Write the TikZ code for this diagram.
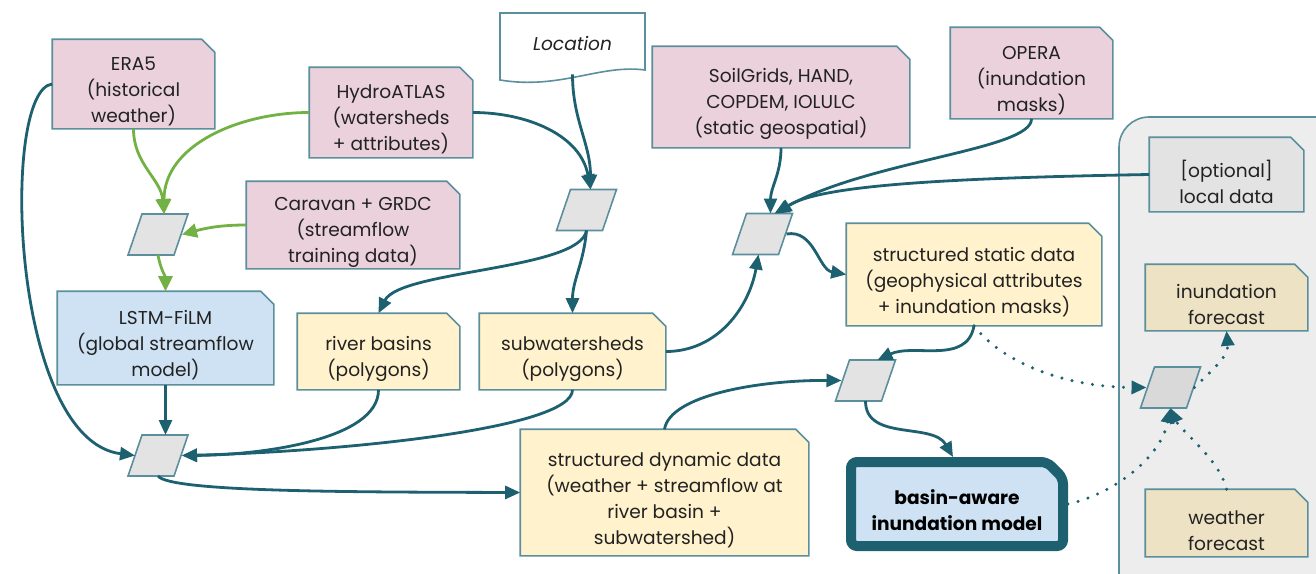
\documentclass[tikz,border=0pt]{standalone}
\usepackage{fontspec}
\setmainfont{Poppins}
\usetikzlibrary{arrows.meta,calc}
\definecolor{pinkf}{HTML}{EAD1DC}
\definecolor{bluef}{HTML}{CFE2F3}
\definecolor{yelf}{HTML}{FFF2CC}
\definecolor{greyf}{HTML}{E3E3E3}
\definecolor{greyg}{HTML}{D9D9D9}
\definecolor{beigef}{HTML}{EEE2C4}
\definecolor{groupf}{HTML}{EDEDED}
\definecolor{bord}{HTML}{5B8F9D}
\definecolor{edgec}{HTML}{1D6070}
\definecolor{grn}{HTML}{72B143}
\definecolor{txt}{HTML}{222222}
\pgfdeclarelayer{bg}
\pgfsetlayers{bg,main}
\newcommand\parash[2]{\filldraw[draw=bord, fill=#2, line width=0.8pt] (#1.south west) -- ([xshift=7pt]#1.north west) -- (#1.north east) -- ([xshift=-7pt]#1.south east) -- cycle;}
\newcommand\dogear[2]{\begin{pgfonlayer}{bg}\filldraw[draw=bord, fill=#2, line width=0.8pt] (#1.south west) -- (#1.north west) -- ([xshift=-6.5pt]#1.north east) -- ([yshift=-6.5pt]#1.north east) -- (#1.south east) -- cycle;\end{pgfonlayer}}
% name, position, width, height, fill, text
\newcommand\mybox[6]{\node[dog, minimum width=#3, minimum height=#4] (#1) at #2 {};
  \node[lbl] at ([yshift=-3.6pt]#1.center) {#6};
  \dogear{#1}{#5}}
\begin{document}
\begin{tikzpicture}[x=0.5pt,y=-0.5pt,
 lbl/.style={text=txt, align=center, font=\fontsize{9.3}{13}\selectfont, inner sep=0pt},
 dog/.style={rectangle, inner sep=0pt, outer sep=0.4pt},
 para/.style={rectangle, minimum width=30pt, minimum height=20.5pt, inner sep=0pt, outer sep=0pt},
 tarr/.style={draw=edgec, line width=1.4pt, -{Triangle[length=7.5pt,width=6.5pt]}},
 garr/.style={draw=grn, line width=1.4pt, -{Triangle[length=7.5pt,width=7pt]}},
 darr/.style={draw=edgec, line width=1.7pt, line cap=round, dash pattern=on 0pt off 5.2pt,
   -{Triangle[length=7.5pt,width=6.5pt]}},
]
\clip (0,0) rectangle (1316,573);
\useasboundingbox (0,0) rectangle (1316,573);

% group box
\begin{pgfonlayer}{bg}
\draw[draw=bord, fill=groupf, line width=0.8pt, rounded corners=15pt] (1119,117) rectangle (1380,640);
\end{pgfonlayer}

% Location document shape
\filldraw[draw=bord, fill=white, line width=0.8pt] (500,80) -- (500,13) -- (645,13) -- (645,70)
  .. controls (600,64) and (560,90) .. (500,80) -- cycle;
\node[lbl, font=\itshape\fontsize{9.3}{13}\selectfont, minimum width=72.5pt, minimum height=30pt] (loc) at (572.5,44) {Location};

% boxes
\mybox{era5}{(133.5,84)}{80.5pt}{44pt}{pinkf}{ERA5\\(historical\\weather)}
\mybox{hydro}{(391,112.5)}{81pt}{44.5pt}{pinkf}{HydroATLAS\\(watersheds\\+ attributes)}
\mybox{soil}{(781,97)}{128pt}{50pt}{pinkf}{SoilGrids, HAND,\\COPDEM, IOLULC\\(static geospatial)}
\mybox{opera}{(1031.5,73)}{80.5pt}{45pt}{pinkf}{OPERA\\(inundation\\masks)}
\mybox{caravan}{(353,225)}{106pt}{43pt}{pinkf}{Caravan + GRDC\\(streamflow\\training data)}
\mybox{lstm}{(165.5,338)}{107.5pt}{46pt}{bluef}{LSTM-FiLM\\(global streamflow\\model)}
\mybox{river}{(378.5,351.5)}{80.5pt}{37.5pt}{yelf}{river basins\\(polygons)}
\mybox{subw}{(572.5,351.5)}{92.5pt}{37.5pt}{yelf}{subwatersheds\\(polygons)}
\mybox{stat}{(974,274.5)}{127pt}{50.5pt}{yelf}{structured static data\\(geophysical attributes\\+ inundation masks)}
\mybox{dyn}{(664.5,492.5)}{143.5pt}{62.5pt}{yelf}{structured dynamic data\\(weather + streamflow at\\river basin +\\subwatershed)}
\mybox{opt}{(1226.5,174.5)}{76.5pt}{36.5pt}{greyf}{[optional]\\local data}
\mybox{inund}{(1226.5,297.5)}{80.5pt}{32.5pt}{beigef}{inundation\\forecast}
\mybox{wf}{(1226.5,523)}{80.5pt}{33pt}{beigef}{weather\\forecast}

% model box (thick border)
\node[dog, outer sep=2.5pt, minimum width=106pt, minimum height=42pt] (model) at (957,504) {};
\node[lbl, text=black, font=\bfseries\fontsize{9.3}{13}\selectfont] at ([yshift=-3.2pt]model.center) {basin-aware\\inundation model};
\begin{pgfonlayer}{bg}
\filldraw[draw=edgec, fill=bluef, line width=5pt, rounded corners=3pt]
  ([xshift=2.5pt,yshift=2.5pt]model.south west) -- ([xshift=2.5pt,yshift=-2.5pt]model.north west)
  -- ([xshift=-10.5pt,yshift=-2.5pt]model.north east) -- ([xshift=-2.5pt,yshift=-10.5pt]model.north east)
  -- ([xshift=-2.5pt,yshift=2.5pt]model.south east) -- cycle;
\end{pgfonlayer}

% parallelograms
\node[para] (p1) at (158,234.5) {};
\node[para] (p2) at (586.5,210) {};
\node[para] (p3) at (762.5,234) {};
\node[para] (p4) at (158,455.5) {};
\node[para] (p5) at (865.5,380.5) {};
\node[para] (p6) at (1170.5,387.5) {};
\parash{p1}{greyf}\parash{p2}{greyf}\parash{p3}{greyf}
\parash{p4}{greyf}\parash{p5}{greyf}\parash{p6}{greyg}

% green edges
\draw[garr] (era5.south) to[out=-90,in=95] ([xshift=3pt]p1.north);
\draw[garr] (hydro.west) to[out=180,in=90] ([xshift=3pt]p1.north);
\draw[garr] (caravan.west) to[out=180,in=15] ([xshift=-3pt]p1.east);
\draw[garr] (p1.south) to[out=-80,in=90] (lstm.north);

% teal edges
\draw[tarr] (era5.west) .. controls (0,90) and (10,440) .. ([xshift=3.5pt]p4.west);
\draw[tarr] (lstm.south) -- (lstm.south |- p4.north);
\draw[tarr] (river.south) .. controls (378.5,440) and (260,455) .. ([xshift=-3pt]p4.east);
\draw[tarr] (subw.south) .. controls (572.5,430) and (330,452) .. ([xshift=-3pt]p4.east);
\draw[tarr] (p4.south) .. controls (170,492) and (350,492) .. (dyn.west);
\draw[tarr] (hydro.east) to[out=0,in=100] ([xshift=2pt]p2.north);
\draw[tarr] (loc.south) to[out=-90,in=90] ([xshift=2pt]p2.north);
\draw[tarr] (p2.south) .. controls (580,270) and (400,270) .. (river.north);
\draw[tarr] (p2.south) to[out=-95,in=90] (subw.north);
\draw[tarr] (subw.east) to[out=0,in=-100] ([xshift=-2pt]p3.south);
\draw[tarr] (soil.south) to[out=-90,in=90] ([xshift=4pt]p3.north);
\draw[tarr] (opera.south) .. controls (1032,150) and (870,160) .. ([xshift=6pt]p3.north);
\draw[tarr] (opt.west) .. controls (950,178) and (820,185) .. ([xshift=7pt]p3.north);
\draw[tarr] ([xshift=-3pt]p3.east) to[out=10,in=170] (stat.west);
\draw[tarr] (stat.south) to[out=-100,in=25] ([xshift=6pt]p5.north);
\draw[tarr] (dyn.north) .. controls (670,395) and (760,380) .. ([xshift=3pt]p5.west);
\draw[tarr] (p5.south) to[out=-90,in=120] ([xshift=-2pt]model.north);

% dotted edges
\draw[darr] (stat.south) .. controls (1000,360) and (1060,387) .. ([xshift=3pt]p6.west);
\draw[darr] (model.east) .. controls (1110,495) and (1160,460) .. (p6.south);
\draw[darr] (wf.north) .. controls (1220,460) and (1180,430) .. (p6.south);
\draw[darr] ([xshift=-3pt]p6.east) to[out=45,in=-85] (inund.south);
\end{tikzpicture}
\end{document}
